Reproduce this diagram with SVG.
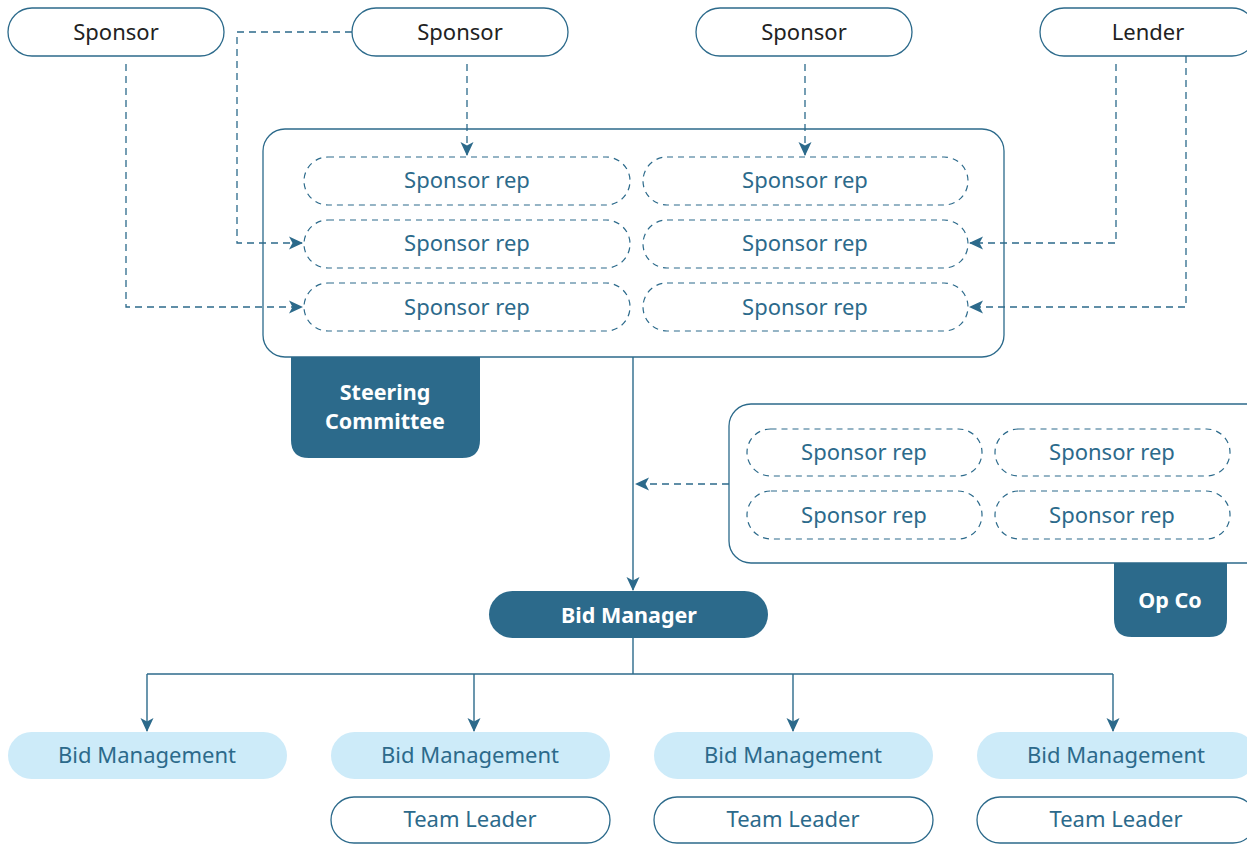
<svg xmlns="http://www.w3.org/2000/svg" width="1247" height="844" viewBox="0 0 1247 844">
  <style>
    .outline { fill: #ffffff; stroke: #2c6a8b; stroke-width: 1.3; }
    .rep { fill: #ffffff; stroke: #2c6a8b; stroke-width: 1.2; stroke-dasharray: 6 5; }
    .dark { fill: #2c6a8b; }
    .light { fill: #cdebf9; }
    .t-dark { font-family: "Noto Sans", "Liberation Sans", sans-serif; font-size: 22px; fill: #222222; text-anchor: middle; dominant-baseline: central; }
    .t-blue { font-family: "Noto Sans", "Liberation Sans", sans-serif; font-size: 22px; fill: #2c6a8b; text-anchor: middle; dominant-baseline: central; }
    .t-white { font-family: "Noto Sans", "Liberation Sans", sans-serif; font-size: 21.5px; font-weight: bold; fill: #ffffff; text-anchor: middle; dominant-baseline: central; }
    .solid { fill: none; stroke: #2c6a8b; stroke-width: 1.4; }
    .dashed { fill: none; stroke: #2c6a8b; stroke-width: 1.3; stroke-dasharray: 7 5; }
  </style>
  <defs>
    <marker id="arrow" viewBox="0 0 14 14" refX="13" refY="7" markerWidth="14" markerHeight="14" markerUnits="userSpaceOnUse" orient="auto">
      <path d="M0,0.5 L14,7 L0,13.5 L3.5,7 z" fill="#2c6a8b"/>
    </marker>
  </defs>

  <rect width="1247" height="844" fill="#ffffff"/>

  <!-- top row -->
  <g id="sponsor-1"><rect class="outline" x="8" y="8" width="216" height="48" rx="24"/><text class="t-dark" x="116" y="31">Sponsor</text></g>
  <g id="sponsor-2"><rect class="outline" x="352" y="8" width="216" height="48" rx="24"/><text class="t-dark" x="460" y="31">Sponsor</text></g>
  <g id="sponsor-3"><rect class="outline" x="696" y="8" width="216" height="48" rx="24"/><text class="t-dark" x="804" y="31">Sponsor</text></g>
  <g id="lender"><rect class="outline" x="1040" y="8" width="216" height="48" rx="24"/><text class="t-dark" x="1148" y="31">Lender</text></g>

  <!-- steering committee -->
  <g id="steering-committee">
    <path class="dark" d="M291,357 H480 V440 Q480,458 462,458 H309 Q291,458 291,440 Z"/>
    <rect class="outline" x="263" y="129" width="741" height="228" rx="22"/>
    <text class="t-white" x="385" y="391">Steering</text>
    <text class="t-white" x="385" y="420">Committee</text>
  </g>
  <g id="sc-rep-1"><rect class="rep" x="304" y="157" width="326" height="48" rx="24"/><text class="t-blue" x="467" y="179">Sponsor rep</text></g>
  <g id="sc-rep-2"><rect class="rep" x="643" y="157" width="325" height="48" rx="24"/><text class="t-blue" x="805" y="179">Sponsor rep</text></g>
  <g id="sc-rep-3"><rect class="rep" x="304" y="220" width="326" height="48" rx="24"/><text class="t-blue" x="467" y="242">Sponsor rep</text></g>
  <g id="sc-rep-4"><rect class="rep" x="643" y="220" width="325" height="48" rx="24"/><text class="t-blue" x="805" y="242">Sponsor rep</text></g>
  <g id="sc-rep-5"><rect class="rep" x="304" y="283" width="326" height="48" rx="24"/><text class="t-blue" x="467" y="306">Sponsor rep</text></g>
  <g id="sc-rep-6"><rect class="rep" x="643" y="283" width="325" height="48" rx="24"/><text class="t-blue" x="805" y="306">Sponsor rep</text></g>

  <!-- op co -->
  <g id="op-co">
    <path class="dark" d="M1114,560 H1227 V619 Q1227,637 1209,637 H1132 Q1114,637 1114,619 Z"/>
    <rect class="outline" x="729" y="404" width="540" height="159" rx="22"/>
    <text class="t-white" x="1170" y="599">Op Co</text>
  </g>
  <g id="oc-rep-1"><rect class="rep" x="747" y="429" width="235" height="47" rx="23.5"/><text class="t-blue" x="864" y="451">Sponsor rep</text></g>
  <g id="oc-rep-2"><rect class="rep" x="995" y="429" width="235" height="47" rx="23.5"/><text class="t-blue" x="1112" y="451">Sponsor rep</text></g>
  <g id="oc-rep-3"><rect class="rep" x="747" y="491" width="235" height="48" rx="24"/><text class="t-blue" x="864" y="514">Sponsor rep</text></g>
  <g id="oc-rep-4"><rect class="rep" x="995" y="491" width="235" height="48" rx="24"/><text class="t-blue" x="1112" y="514">Sponsor rep</text></g>

  <!-- bid manager -->
  <g id="bid-manager"><rect class="dark" x="489" y="591" width="279" height="47" rx="23.5"/><text class="t-white" x="629" y="614">Bid Manager</text></g>

  <!-- bottom teams -->
  <g id="bid-mgmt-1"><rect class="light" x="8" y="732" width="279" height="47" rx="23.5"/><text class="t-blue" x="147" y="754">Bid Management</text></g>
  <g id="bid-mgmt-2"><rect class="light" x="331" y="732" width="279" height="47" rx="23.5"/><text class="t-blue" x="470" y="754">Bid Management</text></g>
  <g id="bid-mgmt-3"><rect class="light" x="654" y="732" width="279" height="47" rx="23.5"/><text class="t-blue" x="793" y="754">Bid Management</text></g>
  <g id="bid-mgmt-4"><rect class="light" x="977" y="732" width="279" height="47" rx="23.5"/><text class="t-blue" x="1116" y="754">Bid Management</text></g>
  <g id="team-leader-2"><rect class="outline" x="331" y="797" width="279" height="46" rx="23"/><text class="t-blue" x="470" y="818">Team Leader</text></g>
  <g id="team-leader-3"><rect class="outline" x="654" y="797" width="279" height="46" rx="23"/><text class="t-blue" x="793" y="818">Team Leader</text></g>
  <g id="team-leader-4"><rect class="outline" x="977" y="797" width="279" height="46" rx="23"/><text class="t-blue" x="1116" y="818">Team Leader</text></g>

  <!-- connectors, drawn last so they run over the committee frame -->
  <g id="connectors">
    <path class="dashed" d="M126,64 V307 H302" marker-end="url(#arrow)"/>
    <path class="dashed" d="M352,32 H237 V243 H302" marker-end="url(#arrow)"/>
    <path class="dashed" d="M467,64 V155" marker-end="url(#arrow)"/>
    <path class="dashed" d="M805,64 V155" marker-end="url(#arrow)"/>
    <path class="dashed" d="M1116,64 V243 H970" marker-end="url(#arrow)"/>
    <path class="dashed" d="M1186,56 V307 H970" marker-end="url(#arrow)"/>
    <path class="dashed" d="M729,484 H636" marker-end="url(#arrow)"/>
    <path class="solid" d="M633,357 V590" marker-end="url(#arrow)"/>
    <path class="solid" d="M633,638 V674"/>
    <path class="solid" d="M147,674 H1113"/>
    <path class="solid" d="M147,674 V731" marker-end="url(#arrow)"/>
    <path class="solid" d="M474,674 V731" marker-end="url(#arrow)"/>
    <path class="solid" d="M793,674 V731" marker-end="url(#arrow)"/>
    <path class="solid" d="M1113,674 V731" marker-end="url(#arrow)"/>
  </g>
</svg>
